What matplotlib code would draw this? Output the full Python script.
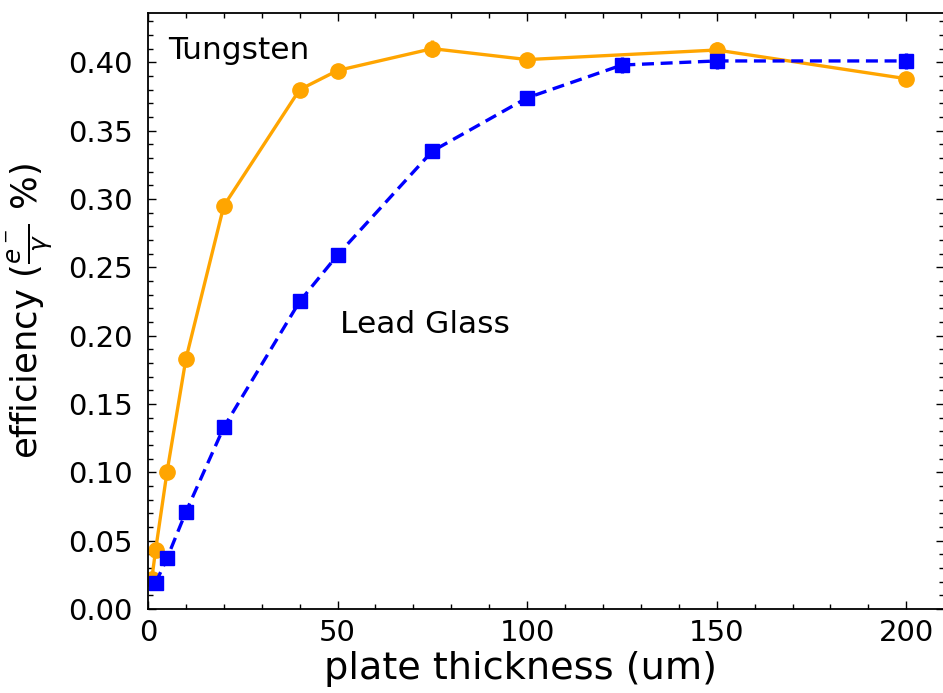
import matplotlib
matplotlib.use("Agg")
import matplotlib.pyplot as plt
from matplotlib.ticker import MultipleLocator

# Data
w_thickness = [1, 2, 5, 10, 20, 40, 50, 75, 100, 150, 200]
w_eff = [0.022, 0.043, 0.100, 0.183, 0.295, 0.380, 0.394, 0.410, 0.402, 0.409, 0.388]
w_err = [0.001, 0.0015, 0.002, 0.003, 0.004, 0.005, 0.005, 0.006, 0.005, 0.006, 0.005]

pb_thickness = [2, 5, 10, 20, 40, 50, 75, 100, 125, 150, 200]
pb_eff = [0.019, 0.037, 0.071, 0.133, 0.225, 0.259, 0.335, 0.374, 0.398, 0.401, 0.401]
pb_err = [0.001, 0.0015, 0.002, 0.003, 0.004, 0.004, 0.005, 0.005, 0.006, 0.006, 0.006]

TFS = 21      # tick labels
FS = 22.5     # in-plot annotations
LFS = 27.5    # x axis label
YLFS = 25.5   # y axis label
W, H = 943, 693
fig = plt.figure(figsize=(W / 100, H / 100), dpi=100)
ax = fig.add_axes([148 / W, 1 - 609 / H, (944 - 148) / W, (609 - 12.7) / H])

ax.errorbar(w_thickness, w_eff, yerr=w_err, color='#FFA500', marker='o', ms=11,
            lw=2.4, ls='-', capsize=0, elinewidth=2.4)
ax.errorbar(pb_thickness, pb_eff, yerr=pb_err, color='#0000FF', marker='s', ms=10,
            lw=2.4, ls='--', dashes=(3.6, 2.0), capsize=0, elinewidth=2.4)

ax.set_xlim(0, 209.95)
ax.set_ylim(0, 0.4363)
ax.xaxis.set_major_locator(MultipleLocator(50))
ax.xaxis.set_minor_locator(MultipleLocator(10))
ax.yaxis.set_major_locator(MultipleLocator(0.05))
ax.yaxis.set_minor_locator(MultipleLocator(0.01))
ax.yaxis.set_major_formatter(matplotlib.ticker.FormatStrFormatter('%.2f'))

ax.tick_params(which='both', direction='in', top=True, right=True, labelsize=TFS)
ax.tick_params(which='major', length=5.5, width=1.0)
ax.tick_params(which='minor', length=3.5, width=1.0)
ax.tick_params(axis='y', which='major', pad=11)
ax.tick_params(axis='x', which='major', pad=7)
for s in ax.spines.values():
    s.set_linewidth(1.3)

ax.set_xlabel('plate thickness (um)', fontsize=LFS)
ax.set_ylabel(r'efficiency ($\frac{e^-}{\gamma}$ %)', fontsize=YLFS)
ax.xaxis.set_label_coords((520 - 148) / 796, (609 - 651) / 596.3)
ax.yaxis.set_label_coords((55 - 148) / 796, 0.5)

ax.text(5.3, 0.409, 'Tungsten', fontsize=FS, va='center', ha='left')
ax.text(50.7, 0.208, 'Lead Glass', fontsize=FS, va='center', ha='left')

fig.savefig('out.png', dpi=100)
